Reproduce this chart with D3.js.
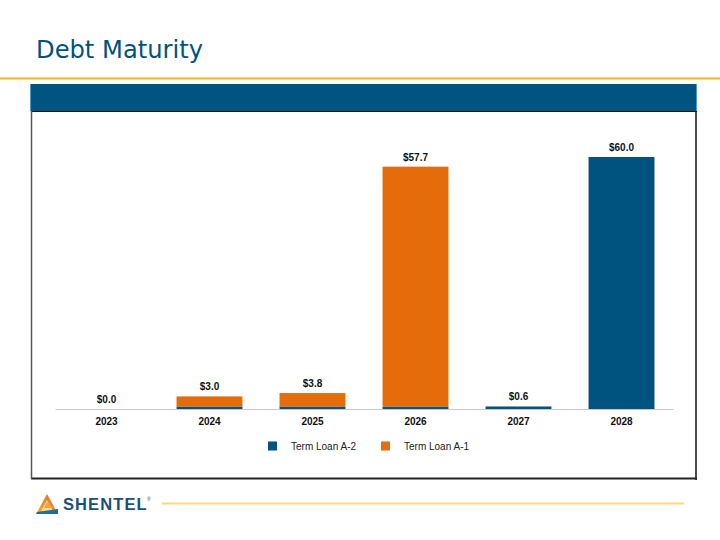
<!DOCTYPE html>
<html>
<head>
<meta charset="utf-8">
<script src="https://cdn.jsdelivr.net/npm/d3@7"></script>
<style>
  html, body { margin: 0; padding: 0; background: #fff; }
  svg { display: block; }
</style>
</head>
<body>
<script>
// ---- Data ----
const years = ["2023", "2024", "2025", "2026", "2027", "2028"];
const termLoanA2 = [0.0, 0.6, 0.6, 0.6, 0.6, 60.0];
const termLoanA1 = [0.0, 2.4, 3.2, 57.1, 0.0, 0.0];
const totalLabels = ["$0.0", "$3.0", "$3.8", "$57.7", "$0.6", "$60.0"];
const seriesNames = ["Term Loan A-2", "Term Loan A-1"];
const seriesColors = ["#00537f", "#e46c0a"];

const W = 720, H = 540;
const svg = d3.select("body").append("svg").attr("width", W).attr("height", H);

// Title
svg.append("text").attr("x", 36).attr("y", 58)
  .attr("font-family", "DejaVu Sans, Verdana, sans-serif")
  .attr("font-size", 24).attr("fill", "#00527f")
  .attr("textLength", 167).attr("lengthAdjust", "spacingAndGlyphs")
  .text("Debt Maturity");

// Gold rule under title
svg.append("rect").attr("x", 0).attr("y", 77.5).attr("width", W).attr("height", 2).attr("fill", "#f5b41a");

// Header bar
svg.append("rect").attr("x", 30).attr("y", 84).attr("width", 667).attr("height", 27).attr("fill", "#00547f");
svg.append("rect").attr("x", 30).attr("y", 84).attr("width", 1).attr("height", 27).attr("fill", "#4a9ccc");
svg.append("rect").attr("x", 696).attr("y", 84).attr("width", 1).attr("height", 27).attr("fill", "#4a9ccc");

// Box border
svg.append("line").attr("x1", 31).attr("x2", 697).attr("y1", 111.5).attr("y2", 111.5).attr("stroke", "#111").attr("stroke-width", 1.2);
svg.append("line").attr("x1", 696).attr("x2", 696).attr("y1", 111).attr("y2", 480).attr("stroke", "#111").attr("stroke-width", 1.5);
svg.append("line").attr("x1", 31).attr("x2", 697).attr("y1", 478.5).attr("y2", 478.5).attr("stroke", "#222").attr("stroke-width", 2);
svg.append("line").attr("x1", 31.5).attr("x2", 31.5).attr("y1", 111).attr("y2", 479).attr("stroke", "#555").attr("stroke-width", 1.5);

// Scales
const x = d3.scaleBand().domain(years).range([55, 673]).paddingInner(0.36).paddingOuter(0.18);
const y = d3.scaleLinear().domain([0, 60]).range([409, 157]);

// Stack data
const rows = years.map((yr, i) => ({ year: yr, a2: termLoanA2[i], a1: termLoanA1[i] }));
const stack = d3.stack().keys(["a2", "a1"])(rows);

const g = svg.append("g");
stack.forEach((layer, li) => {
  g.selectAll(null).data(layer).enter().append("rect")
    .attr("x", d => x(d.data.year))
    .attr("width", x.bandwidth())
    .attr("y", d => y(d[1]))
    .attr("height", d => Math.max(0, y(d[0]) - y(d[1])))
    .attr("fill", seriesColors[li]);
});

// Axis
const xAxis = d3.axisBottom(x).tickSize(0).tickPadding(0);
const ax = svg.append("g").attr("transform", "translate(0,409)").call(xAxis);
ax.select(".domain").attr("stroke", "#c8c8c8").attr("stroke-width", 1.2);
ax.selectAll("text").attr("y", 16).attr("dy", 0)
  .attr("font-family", "Liberation Sans, Arial, sans-serif")
  .attr("font-size", 10).attr("font-weight", "bold").attr("fill", "#111");

// Total labels
svg.selectAll(null).data(rows).enter().append("text")
  .attr("x", d => x(d.year) + x.bandwidth() / 2)
  .attr("y", d => y(d.a1 + d.a2) - 6)
  .attr("text-anchor", "middle")
  .attr("font-family", "Liberation Sans, Arial, sans-serif")
  .attr("font-size", 10).attr("font-weight", "bold").attr("fill", "#111")
  .text((d, i) => totalLabels[i]);

// Legend
const legendX = [268, 381];
seriesNames.forEach((name, i) => {
  svg.append("rect").attr("x", legendX[i]).attr("y", 441.5).attr("width", 9).attr("height", 9).attr("fill", seriesColors[i]);
  svg.append("text").attr("x", legendX[i] + 23).attr("y", 450)
    .attr("font-family", "Liberation Sans, Arial, sans-serif")
    .attr("font-size", 10).attr("fill", "#222").text(name);
});

// Footer logo
const defs = svg.append("defs");
const grad = defs.append("linearGradient").attr("id", "tri").attr("x1", "0").attr("y1", "1").attr("x2", "1").attr("y2", "0");
grad.append("stop").attr("offset", "0").attr("stop-color", "#f6b22a");
grad.append("stop").attr("offset", "1").attr("stop-color", "#e0672a");
svg.append("polygon").attr("points", "36,514 47,494 58,514").attr("fill", "url(#tri)");
svg.append("polygon").attr("points", "41,511 47,500 53,511").attr("fill", "#fcd98c");
svg.append("polygon").attr("points", "44,508 48,501 52,508").attr("fill", "#f3a247");
svg.append("polygon").attr("points", "37,512 58,509 58,514 36,514").attr("fill", "#1f6f9e");
svg.append("text").attr("x", 63).attr("y", 509.5)
  .attr("font-family", "Liberation Sans, Arial, sans-serif")
  .attr("font-size", 16.5).attr("font-weight", "bold").attr("fill", "#1c4f75")
  .attr("letter-spacing", 1.1).text("SHENTEL");
svg.append("text").attr("x", 147).attr("y", 501)
  .attr("font-family", "Liberation Sans, Arial, sans-serif")
  .attr("font-size", 5).attr("fill", "#1c4f75").text("®");
svg.append("rect").attr("x", 162).attr("y", 502.5).attr("width", 522).attr("height", 2).attr("fill", "#fdd87c");
</script>
</body>
</html>
